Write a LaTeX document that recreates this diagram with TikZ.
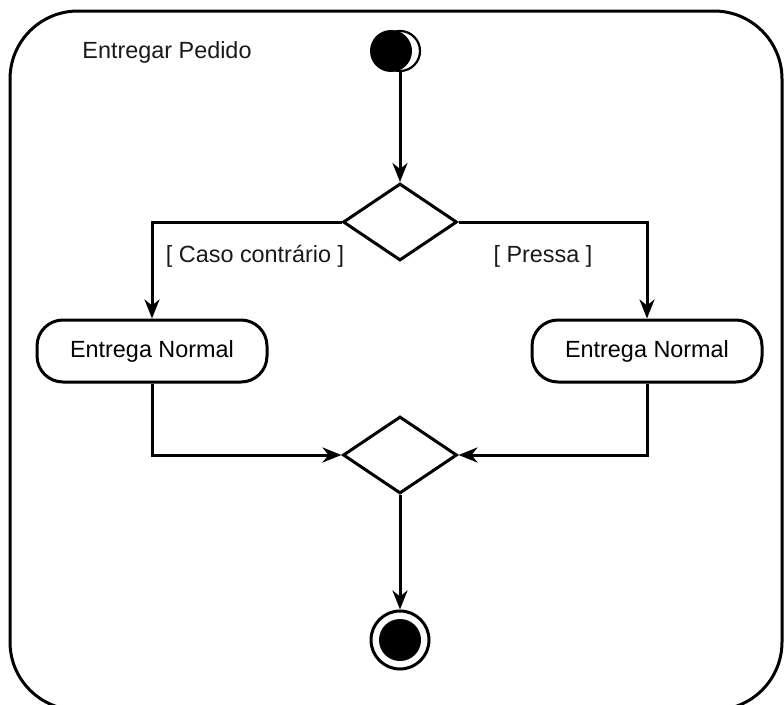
\documentclass[tikz,border=0pt]{standalone}
\usepackage{fontspec}
\setmainfont{Liberation Sans}
\usetikzlibrary{shapes.geometric,arrows.meta}
\begin{document}
\begin{tikzpicture}[x=1pt,y=-1pt,
  line width=3pt,
  lbl/.style={font=\fontsize{23.4}{28}\selectfont, inner sep=0pt, text=black!90},
  actbox/.style={draw, line width=3pt, rounded corners=26pt, minimum width=230pt, minimum height=62pt,
    font=\fontsize{23.4}{28}\selectfont, inner sep=0pt},
  choice/.style={draw, line width=3pt, diamond, minimum width=114pt, minimum height=77pt, inner sep=0pt},
  flow/.style={-{Stealth[length=19pt,width=15pt,inset=6pt]}, line width=3pt},
]
\useasboundingbox (0,0) rectangle (784,704);
\clip (0,0) rectangle (784,704);

% activity frame
\draw[line width=3pt, rounded corners=68pt] (10,11) rectangle (782,710);
\node[lbl] (title) at (167,52) {Entregar Pedido};

% initial node
\node[circle, fill=black, minimum size=42pt, inner sep=0pt] (startfill) at (391,51) {};
\node[circle, draw, line width=2.2pt, minimum size=40pt, inner sep=0pt] (start) at (400,51) {};

% decision and merge
\node[choice] (dec) at (400,222) {};
\node[choice] (merge) at (400,455) {};

% actions
\node[actbox] (normal) at (152,351) {Entrega Normal};
\node[actbox] (rush) at (647,351) {Entrega Normal};

% final node
\node[circle, draw, line width=3pt, minimum size=58pt, inner sep=0pt] (final) at (400,640) {};
\node[circle, fill=black, minimum size=42pt, inner sep=0pt] (finalfill) at (400,640) {};

% flows
\draw[flow] (start.south) -- (dec.north);
\draw[flow] (dec.west) -| (normal.north);
\draw[flow] (dec.east) -| (rush.north);
\draw[flow] (normal.south) |- (merge.west);
\draw[flow] (rush.south) |- (merge.east);
\draw[flow] (merge.south) -- (final.north);

% guards
\node[lbl] (g1) at (255,256) {[ Caso contrário ]};
\node[lbl] (g2) at (543,256) {[ Pressa ]};
\end{tikzpicture}
\end{document}
